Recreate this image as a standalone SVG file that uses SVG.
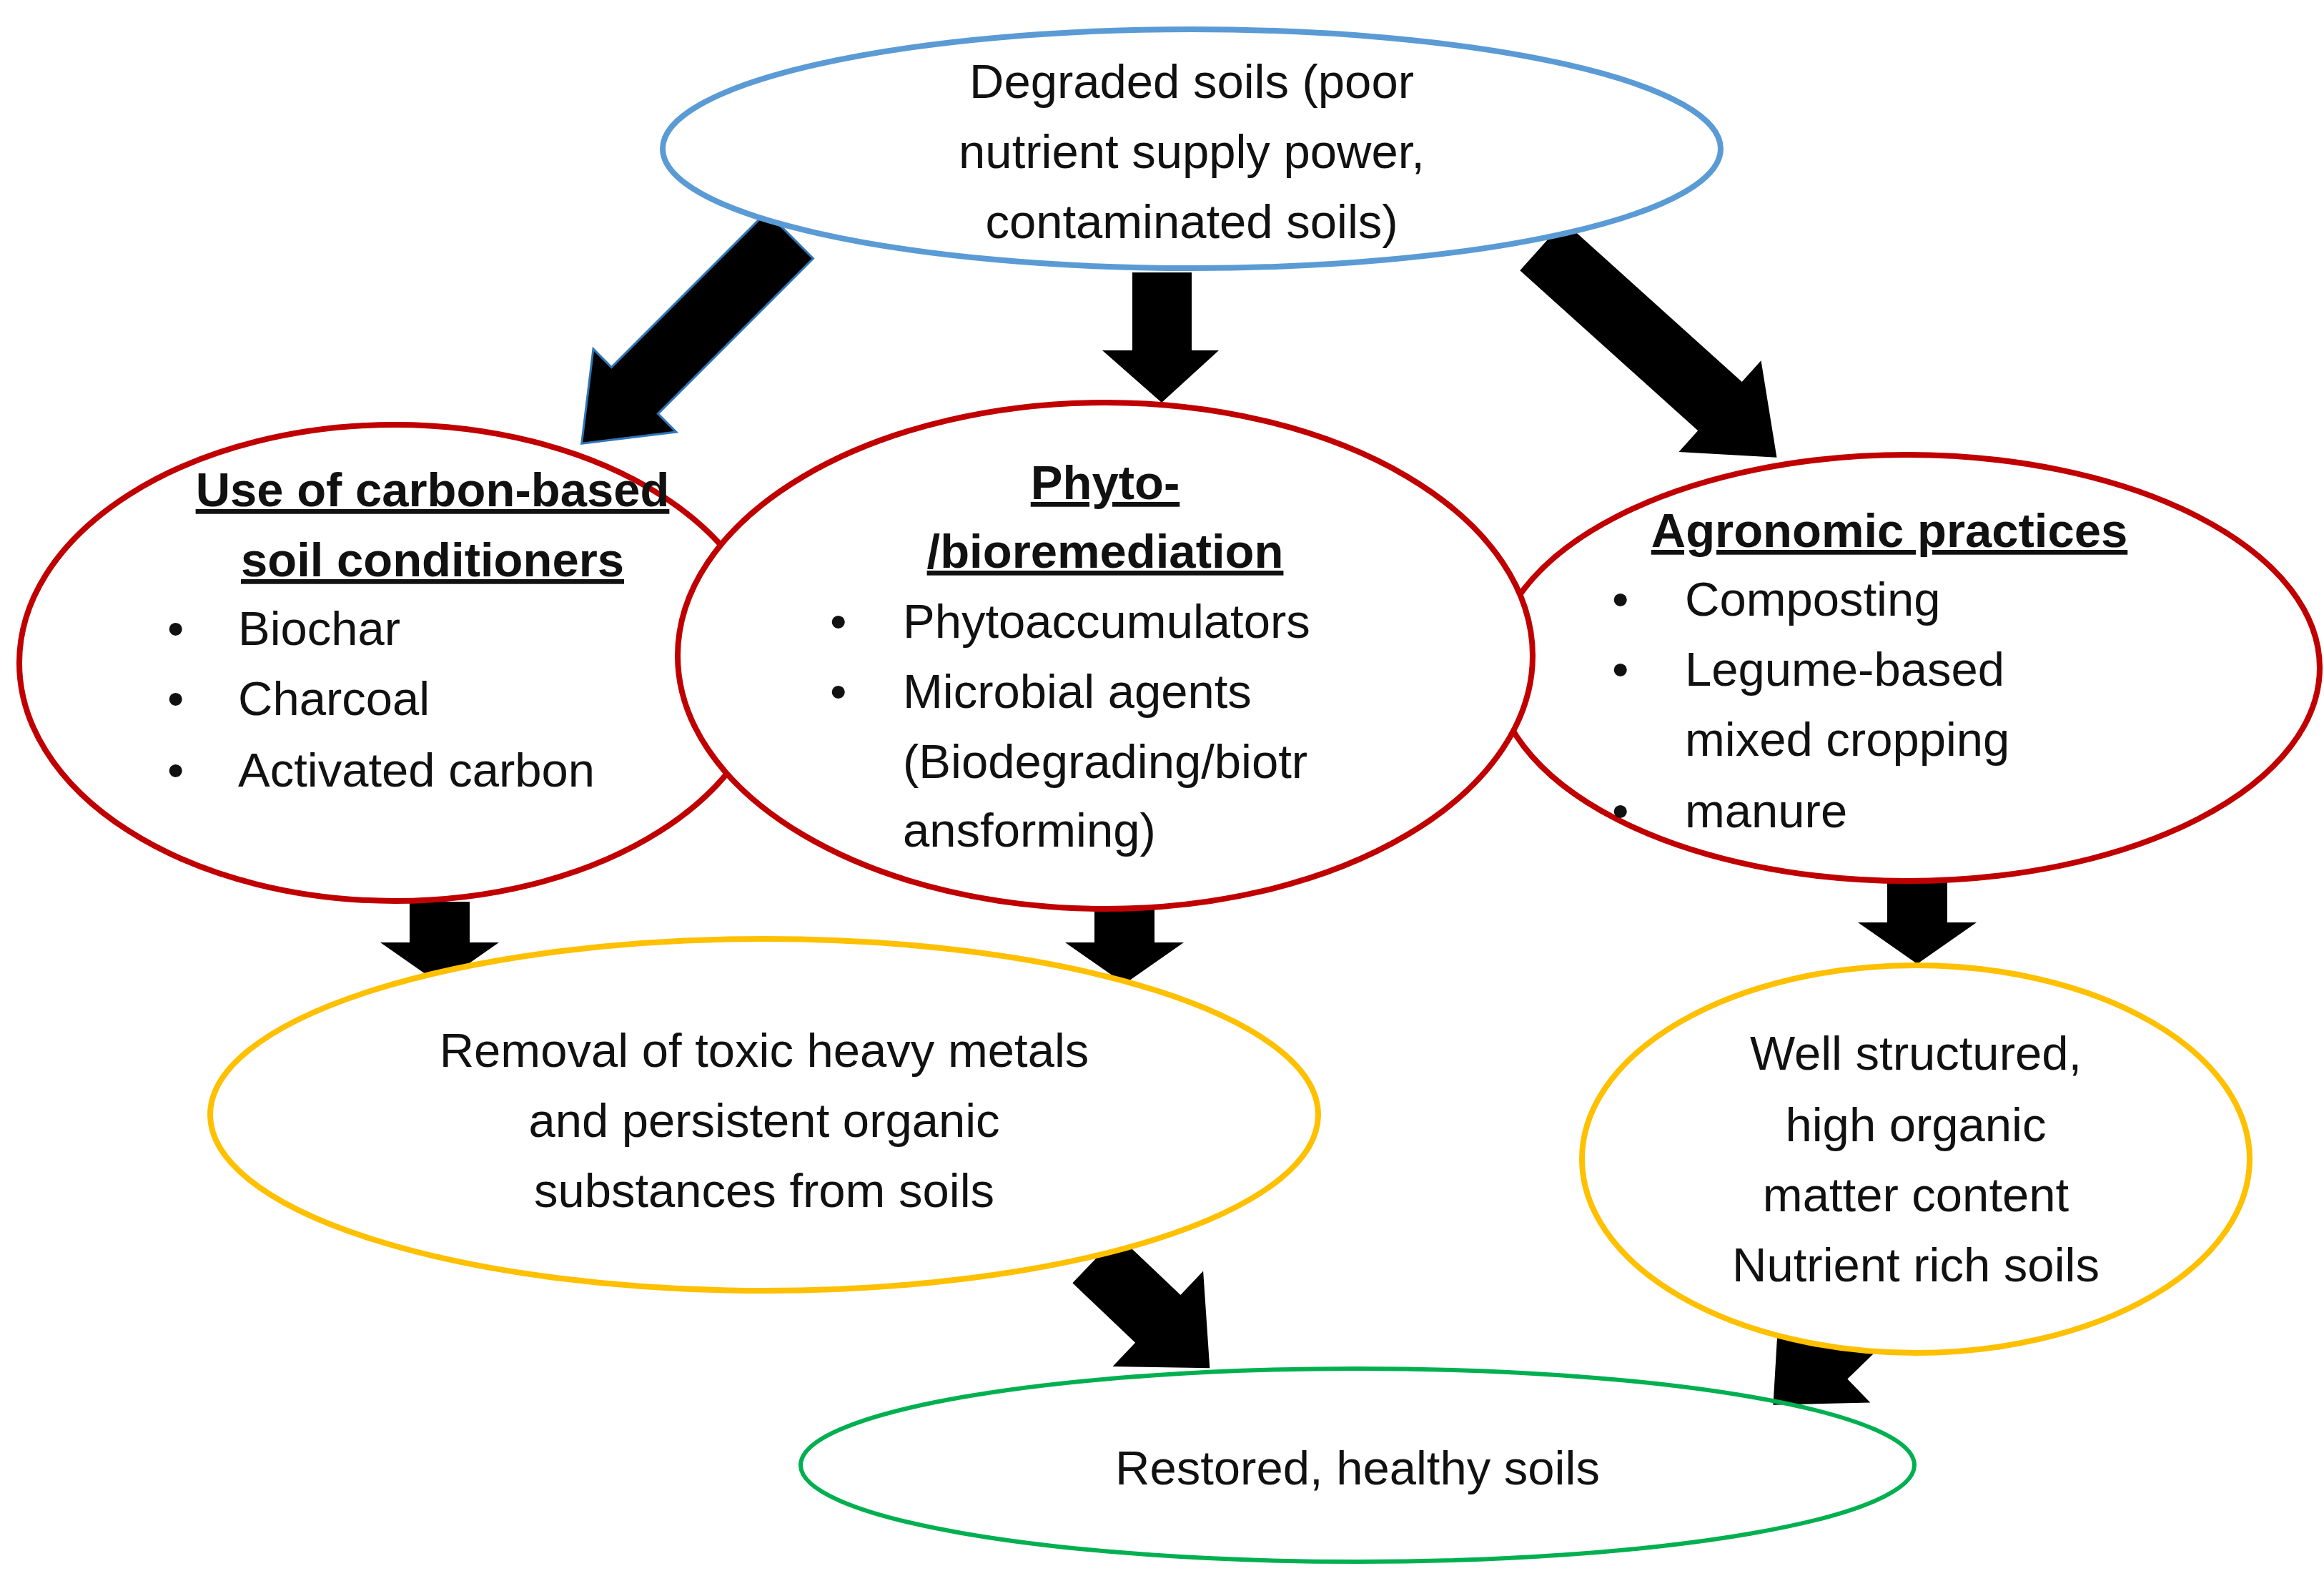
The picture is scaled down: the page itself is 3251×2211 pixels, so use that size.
<svg xmlns="http://www.w3.org/2000/svg" width="3251" height="2211" viewBox="0 0 3251 2211">
<style>
text{font-family:"Liberation Sans",Arial,sans-serif;font-size:67px;fill:#111}
.c{text-anchor:middle}
.b{font-weight:bold;text-decoration:underline}
.n{fill:#fff;stroke-width:8}
.ar{fill:#000}
</style>
<rect width="3251" height="2211" fill="#fff"/>
<g id="connectors">
<g transform="translate(1105,329) rotate(135)"><path class="ar" stroke="#2E75B6" stroke-width="3" d="M0,-46 L307,-46 L307,-82 L412,0 L307,82 L307,46 L0,46 Z"/></g>
<path class="ar" d="M1584,381 L1667,381 L1667,490 L1705,490 L1625,563 L1542,490 L1584,490 Z"/>
<g transform="translate(2157,344) rotate(42)"><path class="ar" d="M0,-46 L335,-46 L335,-86 L442,0 L335,86 L335,46 L0,46 Z"/></g>
<path class="ar" d="M573,1261 L657,1261 L657,1318 L698,1318 L615,1376 L532,1318 L573,1318 Z"/>
<path class="ar" d="M1531,1261 L1615,1261 L1615,1318 L1656,1318 L1573,1376 L1490,1318 L1531,1318 Z"/>
<path class="ar" d="M2640,1219 L2724,1219 L2724,1290 L2765,1290 L2682,1348 L2599,1290 L2640,1290 Z"/>
<g transform="translate(1532,1761) rotate(43.5)"><path class="ar" d="M0,-46 L121,-46 L121,-92 L221,0 L121,92 L121,46 L0,46 Z"/></g>
<g transform="translate(2620,1830) rotate(136)"><path class="ar" d="M0,-46 L94,-46 L94,-92 L194,0 L94,92 L94,46 L0,46 Z"/></g>
</g>
<g id="degraded"><ellipse class="n" cx="1667" cy="208" rx="740" ry="167" stroke="#5B9BD5" stroke-width="10"/>
<text class="c" x="1667" y="137">Degraded soils (poor</text><text class="c" x="1667" y="235">nutrient supply power,</text><text class="c" x="1667" y="333">contaminated soils)</text></g>
<g id="carbon"><ellipse class="n" cx="552" cy="927" rx="525" ry="333" stroke="#C00000"/></g>
<g id="agronomic"><ellipse class="n" cx="2668" cy="934" rx="577" ry="298" stroke="#C00000"/>
<text class="c b" x="2643" y="765">Agronomic practices</text>
<text x="2255" y="861">•</text><text x="2357" y="861">Composting</text>
<text x="2255" y="959">•</text><text x="2357" y="959">Legume-based</text>
<text x="2357" y="1057">mixed cropping</text>
<text x="2255" y="1157">•</text><text x="2357" y="1157">manure</text></g>
<g id="phyto"><ellipse class="n" cx="1546" cy="917" rx="598" ry="354" stroke="#C00000"/>
<text class="c b" x="1546" y="698">Phyto-</text><text class="c b" x="1546" y="794">/bioremediation</text>
<text x="1161" y="892">•</text><text x="1263" y="892">Phytoaccumulators</text>
<text x="1161" y="990">•</text><text x="1263" y="990">Microbial agents</text>
<text x="1263" y="1088">(Biodegrading/biotr</text>
<text x="1263" y="1184">ansforming)</text></g>
<g id="carbon-text">
<text class="c b" x="605" y="708">Use of carbon-based</text><text class="c b" x="605" y="806">soil conditioners</text>
<text x="234" y="902">•</text><text x="333" y="902">Biochar</text>
<text x="234" y="1000">•</text><text x="333" y="1000">Charcoal</text>
<text x="234" y="1100">•</text><text x="333" y="1100">Activated carbon</text></g>
<g id="removal"><ellipse class="n" cx="1069" cy="1559" rx="775" ry="246" stroke="#FFC000" stroke-width="6"/>
<text class="c" x="1069" y="1492">Removal of toxic heavy metals</text><text class="c" x="1069" y="1590">and persistent organic</text><text class="c" x="1069" y="1688">substances from soils</text></g>
<g id="wellstructured"><ellipse class="n" cx="2680" cy="1621" rx="467" ry="271" stroke="#FFC000" stroke-width="6"/>
<text class="c" x="2680" y="1496">Well structured,</text><text class="c" x="2680" y="1596">high organic</text><text class="c" x="2680" y="1694">matter content</text><text class="c" x="2680" y="1792">Nutrient rich soils</text></g>
<g id="restored"><ellipse cx="1899" cy="2049" rx="779" ry="135" fill="none" stroke="#00B050" stroke-width="6"/>
<text class="c" x="1899" y="2076">Restored, healthy soils</text></g>
</svg>
